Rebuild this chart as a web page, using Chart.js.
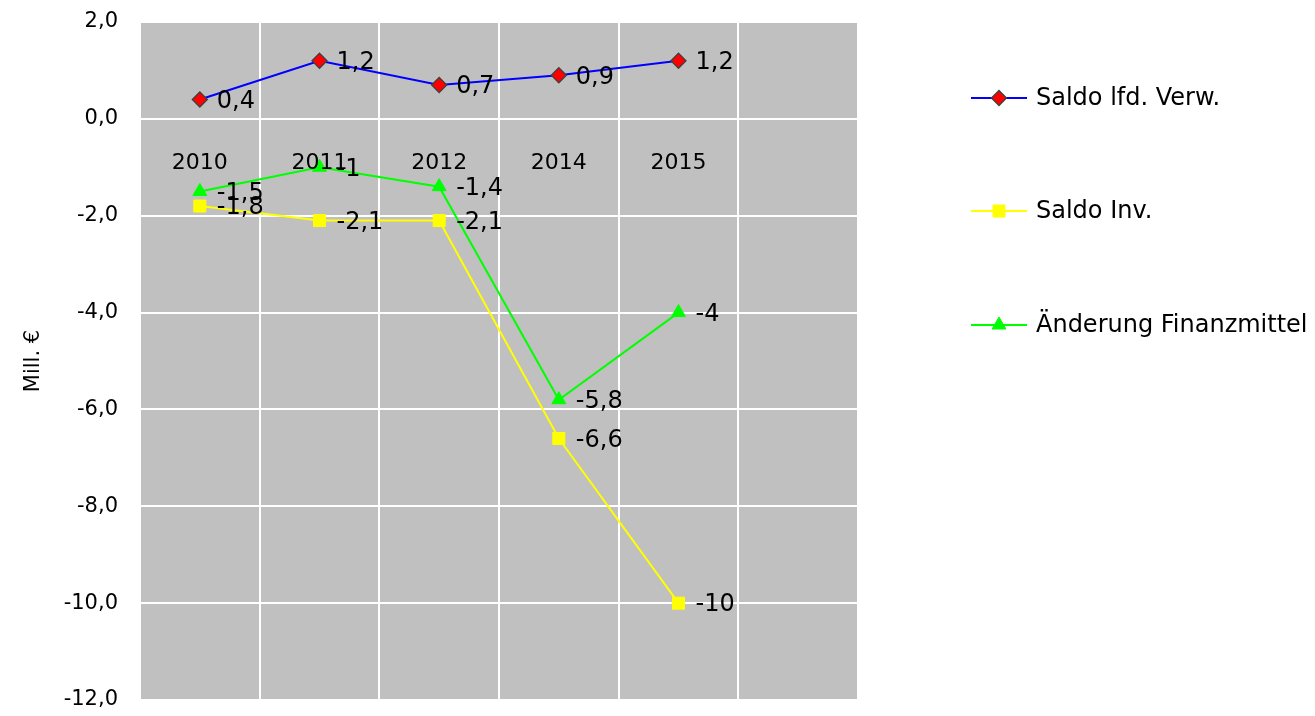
<!DOCTYPE html>
<html>
<head>
<meta charset="utf-8">
<script src="https://cdn.jsdelivr.net/npm/chart.js@4"></script>
<style>
  html, body { margin: 0; padding: 0; background: #fff; }
  #wrap { width: 1315px; height: 716px; }
</style>
</head>
<body>
<div id="wrap"><canvas id="lineChart"></canvas></div>
<script>
// data
const years = ['2010', '2011', '2012', '2014', '2015', ''];
const saldoLfd = [0.4, 1.2, 0.7, 0.9, 1.2];
const saldoInv = [-1.8, -2.1, -2.1, -6.6, -10];
const finanzmittel = [-1.5, -1, -1.4, -5.8, -4];
const yTicks = { min: -12, max: 2, step: 2 };

const FONT = "'DejaVu Sans', sans-serif";

function fmtLabel(v) {
    return String(v).replace('.', ',');
}

// grey plot background
const plotBg = {
    id: 'plotBg',
    beforeDraw(chart) {
        const a = chart.chartArea, ctx = chart.ctx;
        ctx.save();
        ctx.fillStyle = '#c0c0c0';
        ctx.fillRect(a.left, a.top, a.right - a.left, a.bottom - a.top);
        ctx.restore();
    }
};

// category labels sit under the zero line, like the axis crosses at 0
const zeroAxisLabels = {
    id: 'zeroAxisLabels',
    afterDatasetsDraw(chart) {
        const ctx = chart.ctx, x = chart.scales.x, y = chart.scales.y;
        const y0 = y.getPixelForValue(0);
        ctx.save();
        ctx.font = '22px ' + FONT;
        ctx.fillStyle = '#000';
        ctx.textAlign = 'center';
        ctx.textBaseline = 'middle';
        years.forEach((lab, i) => {
            if (lab) ctx.fillText(lab, x.getPixelForValue(i), y0 + 44);
        });
        ctx.restore();
    }
};

// value labels to the right of each point
const valueLabels = {
    id: 'valueLabels',
    afterDatasetsDraw(chart) {
        const ctx = chart.ctx;
        ctx.save();
        ctx.font = '24px ' + FONT;
        ctx.fillStyle = '#000';
        ctx.textAlign = 'left';
        ctx.textBaseline = 'middle';
        chart.data.datasets.forEach((ds, di) => {
            chart.getDatasetMeta(di).data.forEach((pt, i) => {
                ctx.fillText(fmtLabel(ds.data[i]), pt.x + 17, pt.y + 2);
            });
        });
        ctx.restore();
    }
};

// legend on the right: line with marker, like the original
const sideLegend = {
    id: 'sideLegend',
    afterDraw(chart) {
        const ctx = chart.ctx;
        const rows = [98, 211, 325];
        ctx.save();
        chart.data.datasets.forEach((ds, i) => {
            const yy = rows[i];
            ctx.strokeStyle = ds.borderColor;
            ctx.lineWidth = 2;
            ctx.beginPath();
            ctx.moveTo(971, yy);
            ctx.lineTo(1027, yy);
            ctx.stroke();
            ctx.fillStyle = ds.pointBackgroundColor;
            ctx.strokeStyle = ds.pointBorderColor;
            ctx.lineWidth = ds.pointBorderWidth;
            Chart.helpers.drawPoint(ctx, {
                pointStyle: ds.pointStyle,
                radius: ds.pointRadius,
                borderWidth: ds.pointBorderWidth
            }, 999, yy);
            ctx.font = '24px ' + FONT;
            ctx.fillStyle = '#000';
            ctx.textAlign = 'left';
            ctx.textBaseline = 'middle';
            ctx.fillText(ds.label, 1036, yy + 1);
        });
        ctx.restore();
    }
};

const ctx = document.getElementById('lineChart').getContext('2d');
new Chart(ctx, {
    type: 'line',
    data: {
        labels: years,
        datasets: [{
            label: 'Saldo lfd. Verw.',
            data: saldoLfd,
            borderColor: '#0000ff',
            borderWidth: 2,
            pointStyle: 'rectRot',
            pointRadius: 7.5,
            pointBackgroundColor: '#ff0000',
            pointBorderColor: '#404040',
            pointBorderWidth: 1.3
        }, {
            label: 'Saldo Inv.',
            data: saldoInv,
            borderColor: '#ffff00',
            borderWidth: 2,
            pointStyle: 'rect',
            pointRadius: 8.5,
            pointBackgroundColor: '#ffff00',
            pointBorderColor: '#ffff00',
            pointBorderWidth: 1
        }, {
            label: 'Änderung Finanzmittel',
            data: finanzmittel,
            borderColor: '#00ff00',
            borderWidth: 2,
            pointStyle: 'triangle',
            pointRadius: 8,
            pointBackgroundColor: '#00ff00',
            pointBorderColor: '#00ff00',
            pointBorderWidth: 1
        }]
    },
    options: {
        responsive: true,
        maintainAspectRatio: false,
        animation: false,
        layout: {
            padding: { left: 0, top: 22, right: 457, bottom: 16 }
        },
        plugins: {
            legend: { display: false },
            tooltip: { enabled: false }
        },
        scales: {
            x: {
                offset: true,
                afterFit(scale) { scale.height = 0; },
                grid: {
                    offset: true,
                    color: '#ffffff',
                    lineWidth: 2,
                    drawTicks: false
                },
                border: { display: false },
                ticks: { display: false }
            },
            y: {
                min: yTicks.min,
                max: yTicks.max,
                afterFit(scale) { scale.width = 140; },
                ticks: {
                    stepSize: yTicks.step,
                    padding: 3,
                    color: '#000',
                    font: { family: FONT, size: 21 },
                    callback: v => v.toFixed(1).replace('.', ',')
                },
                grid: {
                    color: '#ffffff',
                    lineWidth: 2,
                    drawTicks: true,
                    tickLength: 19,
                    tickColor: 'rgba(0,0,0,0)'
                },
                border: { display: false },
                title: {
                    display: true,
                    text: 'Mill. €',
                    color: '#000',
                    font: { family: FONT, size: 21 },
                    padding: { top: 21, bottom: 0 }
                }
            }
        }
    },
    plugins: [plotBg, zeroAxisLabels, valueLabels, sideLegend]
});
</script>
</body>
</html>
